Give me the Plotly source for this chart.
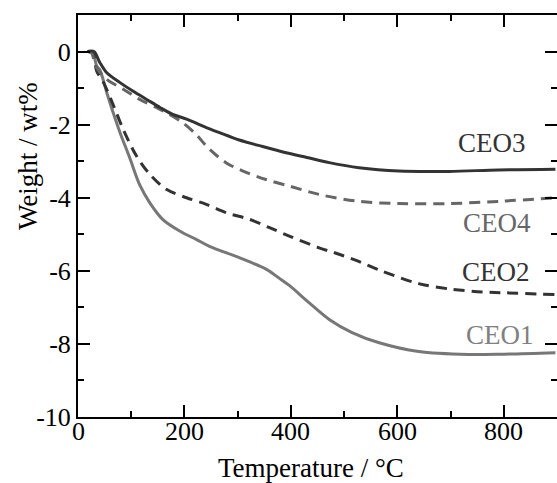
import plotly.graph_objects as go

# ---- data ----
temp_ceo3 = [18, 30, 41, 54, 79, 103, 129, 154, 178, 204, 241, 266, 303, 347, 391, 430, 472, 528, 603, 697, 790, 897]
wt_ceo3 = [0, 0, -0.30, -0.58, -0.85, -1.08, -1.31, -1.53, -1.72, -1.85, -2.08, -2.22, -2.42, -2.60, -2.77, -2.90, -3.04, -3.18, -3.27, -3.28, -3.24, -3.22]

temp_ceo4 = [18, 24, 35, 54, 85, 116, 147, 172, 197, 222, 244, 278, 310, 353, 397, 453, 528, 603, 697, 790, 897]
wt_ceo4 = [0, 0, -0.44, -0.76, -1.03, -1.31, -1.53, -1.72, -1.95, -2.27, -2.63, -3.04, -3.27, -3.50, -3.68, -3.91, -4.10, -4.16, -4.16, -4.10, -4.00]

temp_ceo2 = [18, 28, 35, 48, 67, 85, 110, 135, 166, 204, 241, 278, 322, 360, 397, 453, 485, 520, 570, 640, 700, 760, 800, 897]
wt_ceo2 = [0, -0.05, -0.53, -0.85, -1.49, -2.13, -2.86, -3.36, -3.77, -4.00, -4.18, -4.41, -4.59, -4.82, -5.05, -5.37, -5.52, -5.70, -6.00, -6.35, -6.50, -6.58, -6.60, -6.65]

temp_ceo1 = [18, 28, 35, 41, 54, 66, 79, 97, 116, 135, 159, 191, 222, 247, 303, 354, 378, 397, 434, 472, 515, 566, 640, 734, 800, 897]
wt_ceo1 = [0, -0.05, -0.39, -0.50, -1.12, -1.67, -2.22, -2.90, -3.65, -4.14, -4.59, -4.91, -5.14, -5.33, -5.64, -5.96, -6.20, -6.40, -6.87, -7.33, -7.69, -7.97, -8.21, -8.29, -8.28, -8.24]

x_ticks = [0, 200, 400, 600, 800]
x_ticktext = ["0", "200", "400", "600", "800"]
y_ticks = [-10, -8, -6, -4, -2, 0]
y_ticktext = ["-10", "-8", "-6", "-4", "-2", "0"]

FONT = "Liberation Serif, Times New Roman, Times, serif"
DARK = "#333333"
GRAY4 = "#666666"
GRAY1 = "#777777"
SM = 0.9

fig = go.Figure()
fig.add_trace(go.Scatter(x=temp_ceo1, y=wt_ceo1, mode="lines", line=dict(color=GRAY1, width=3, shape="spline", smoothing=SM)))
fig.add_trace(go.Scatter(x=temp_ceo2, y=wt_ceo2, mode="lines", line=dict(color=DARK, width=3, dash="11px,7px", shape="spline", smoothing=SM)))
fig.add_trace(go.Scatter(x=temp_ceo4, y=wt_ceo4, mode="lines", line=dict(color=GRAY4, width=3, dash="11px,7px", shape="spline", smoothing=SM)))
fig.add_trace(go.Scatter(x=temp_ceo3, y=wt_ceo3, mode="lines", yaxis="y2", line=dict(color=DARK, width=3, shape="spline", smoothing=SM)))

axis_common = dict(showgrid=False, zeroline=False, tickfont=dict(family=FONT, size=26, color="black"))

fig.update_layout(
    width=557, height=483,
    margin=dict(l=78, r=0, t=15, b=66),
    plot_bgcolor="white", paper_bgcolor="white",
    showlegend=False,
    xaxis=dict(range=[0, 900], tickvals=x_ticks, showticklabels=False,
               showline=True, linecolor="black", linewidth=2, mirror="ticks",
               ticks="inside", ticklen=12, tickwidth=2, tickcolor="black",
               minor=dict(ticks="inside", ticklen=6, tickwidth=2, tickcolor="black", dtick=100, tick0=0),
               **axis_common),
    yaxis=dict(range=[-10, 1], tickvals=y_ticks, ticktext=y_ticktext,
               showline=True, linecolor="black", linewidth=2,
               ticks="inside", ticklen=12, tickwidth=2, tickcolor="black",
               minor=dict(ticks="inside", ticklen=6, tickwidth=2, tickcolor="black", dtick=1, tick0=0),
               **axis_common),
    yaxis2=dict(range=[-10, 1], overlaying="y", side="right", tickvals=y_ticks,
                showticklabels=False, showline=False,
                ticks="inside", ticklen=12, tickwidth=2, tickcolor="black",
                minor=dict(ticks="inside", ticklen=6, tickwidth=2, tickcolor="black", dtick=1, tick0=0),
                showgrid=False, zeroline=False),
)

# x tick labels placed close under the axis, as in the reference
for v, t in zip(x_ticks, x_ticktext):
    fig.add_annotation(x=v, xref="x", y=0, yref="paper", text=t, showarrow=False,
                       xanchor="center", yanchor="top", yshift=2,
                       font=dict(family=FONT, size=26, color="black"))

labels = [("CEO3", 777, -2.51, DARK), ("CEO4", 788, -4.70, GRAY4),
          ("CEO2", 786, -6.02, DARK), ("CEO1", 792, -7.75, "#808080")]
for txt, lx, ly, col in labels:
    fig.add_annotation(x=lx, y=ly, text=txt, showarrow=False, xanchor="center", yanchor="middle",
                       font=dict(family=FONT, size=27, color=col))

fig.add_annotation(xref="paper", yref="paper", x=(311 - 78) / 479, y=(417 - 468) / 402,
                   text="Temperature / °C", showarrow=False, xanchor="center", yanchor="middle",
                   font=dict(family=FONT, size=27, color="black"))
fig.add_annotation(xref="paper", yref="paper", x=(28 - 78) / 479, y=(417 - 156) / 402,
                   text="Weight / wt%", showarrow=False, textangle=-90, xanchor="center", yanchor="middle",
                   font=dict(family=FONT, size=27, color="black"))

fig.write_html("out.html", config={"displayModeBar": False},
               post_script="document.body.style.margin='0';document.body.style.overflow='hidden';")
